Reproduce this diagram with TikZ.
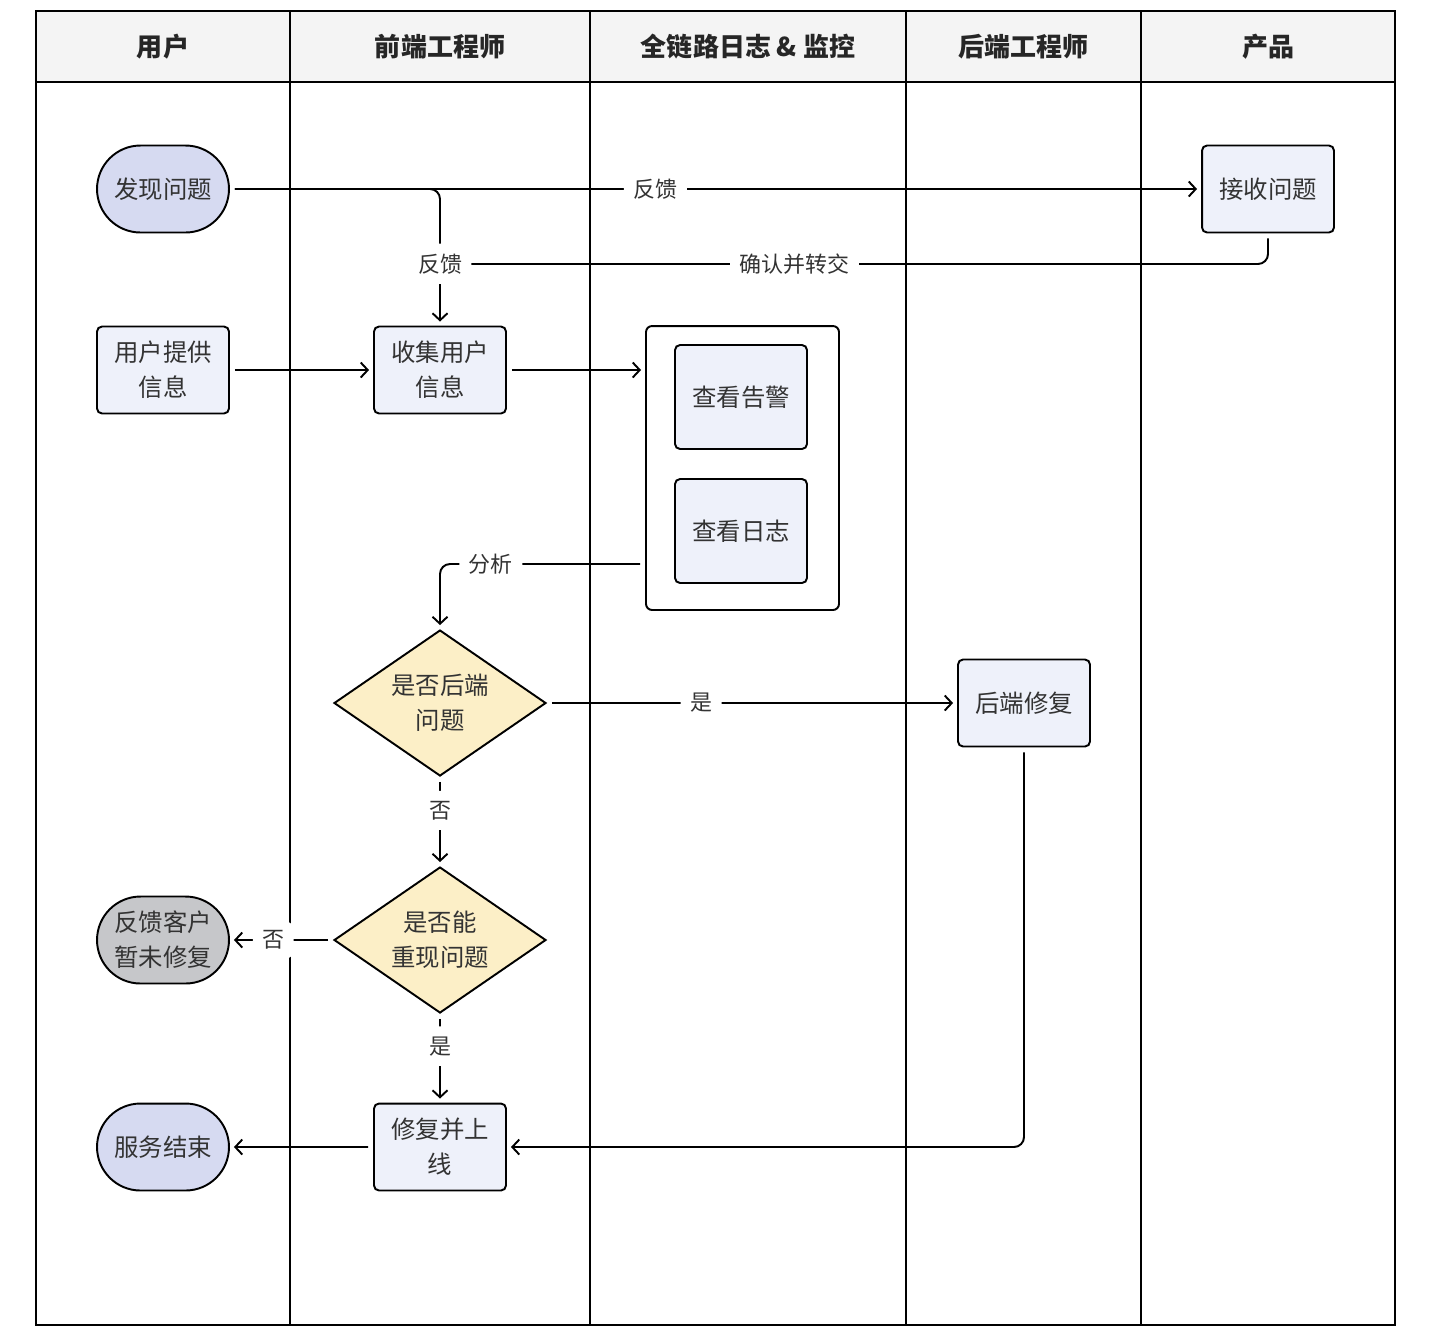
\documentclass[tikz,border=0pt]{standalone}
\usepackage{fontspec}
\setmainfont{Noto Sans CJK SC}
\usetikzlibrary{shapes.geometric,shapes.misc,arrows.meta}
\definecolor{lav}{HTML}{D6DAF1}
\definecolor{boxfill}{HTML}{EEF1FA}
\definecolor{dia}{HTML}{FCEFC7}
\definecolor{graynode}{HTML}{C6C7CA}
\definecolor{hdrfill}{HTML}{F4F4F4}
\definecolor{txt}{HTML}{333333}
\newcommand\nfont{\fontsize{13.9}{19.9}\selectfont}
\newcommand\lfont{\fontsize{12.5}{15}\selectfont}
\newcommand\hfont{\fontsize{14.8}{18}\selectfont\bfseries}
\begin{document}
\begin{tikzpicture}[x=0.02cm,y=-0.02cm,
  line width=1.1pt,
  every node/.style={text=txt},
  box/.style={draw, rounded corners=0.1cm, fill=boxfill, minimum width=2.64cm, minimum height=1.74cm, align=center, font=\nfont, inner sep=0pt},
  term/.style={draw, rounded rectangle, fill=lav, minimum width=2.64cm, minimum height=1.74cm, align=center, font=\nfont, inner sep=0pt},
  dec/.style={draw, diamond, shape aspect=1.45, fill=dia, minimum width=4.24cm, minimum height=2.92cm, align=center, font=\nfont, inner sep=0pt},
  grpbox/.style={draw, rounded corners=0.12cm, fill=white, minimum width=3.86cm, minimum height=5.68cm},
  lbl/.style={fill=white, font=\lfont, inner xsep=0.19cm, inner ysep=0.2cm},
  hdrtxt/.style={font=\hfont, text=black!85},
  flow/.style={-{Straight Barb[length=0.14cm,width=0.3cm]}, shorten <=0.1cm, shorten >=0.08cm, rounded corners=0.2cm},
  link/.style={shorten <=0.1cm, rounded corners=0.2cm},
]
\useasboundingbox (0,0) rectangle (1432,1330);
% swimlane table
\fill[hdrfill] (36,11) rectangle (1395,82);
\draw (36,11) rectangle (1395,1325);
\draw (36,82) -- (1395,82);
\foreach \x in {290,590,906,1141} \draw (\x,11) -- (\x,1325);
\node[hdrtxt] (h1) at (163,47) {用户};
\node[hdrtxt] (h2) at (440,47) {前端工程师};
\node[hdrtxt] (h3) at (748,47) {全链路日志 \& 监控};
\node[hdrtxt] (h4) at (1023.5,47) {后端工程师};
\node[hdrtxt] (h5) at (1268,47) {产品};
% nodes
\node[term] (fxwt) at (163,189) {发现问题};
\node[box] (jswt) at (1268,189) {接收问题};
\node[box] (yhtg) at (163,370) {用户提供\\信息};
\node[box] (sjyh) at (440,370) {收集用户\\信息};
\node[grpbox] (grp) at (742.5,468) {};
\node[box, minimum height=2.08cm] (ckgj) at (741,397) {查看告警};
\node[box, minimum height=2.08cm] (ckrz) at (741,531) {查看日志};
\node[dec] (d1) at (440,703) {是否后端\\问题};
\node[box] (hdxf) at (1024,703) {后端修复};
\node[dec] (d2) at (440,940) {是否能\\重现问题};
\node[term, fill=graynode] (fkkh) at (163,940) {反馈客户\\暂未修复};
\node[term] (fwjs) at (163,1147) {服务结束};
\node[box] (xfsx) at (440,1147) {修复并上\\线};
% connectors
\draw[flow] (fxwt) -- node[lbl,pos=0.438]{反馈} (jswt);
\draw[link] (jswt.south) |- node[lbl,pos=0.786]{确认并转交} (sjyh.north |- 0,264) coordinate (m1);
\draw[flow] (fxwt.east) -| node[lbl,pos=0.774]{反馈} (sjyh.north);
\draw[flow] (yhtg) -- (sjyh);
\draw[flow] (sjyh.east) -- (sjyh.east -| grp.west);
\draw[flow] (grp.west |- 0,564) -| node[lbl,pos=0.376]{分析} (d1.north);
\draw[flow] (d1.east) -- node[lbl,pos=0.376]{是} (hdxf.west);
\draw[flow] (d1.south) -- node[lbl,pos=0.374]{否} (d2.north);
\draw[flow] (d2.west) -- node[lbl,pos=0.58]{否} (fkkh.east);
\draw[flow] (d2.south) -- node[lbl,pos=0.363]{是} (xfsx.north);
\draw[flow] (hdxf.south) |- (xfsx.east);
\draw[flow] (xfsx) -- (fwjs);
\end{tikzpicture}
\end{document}
